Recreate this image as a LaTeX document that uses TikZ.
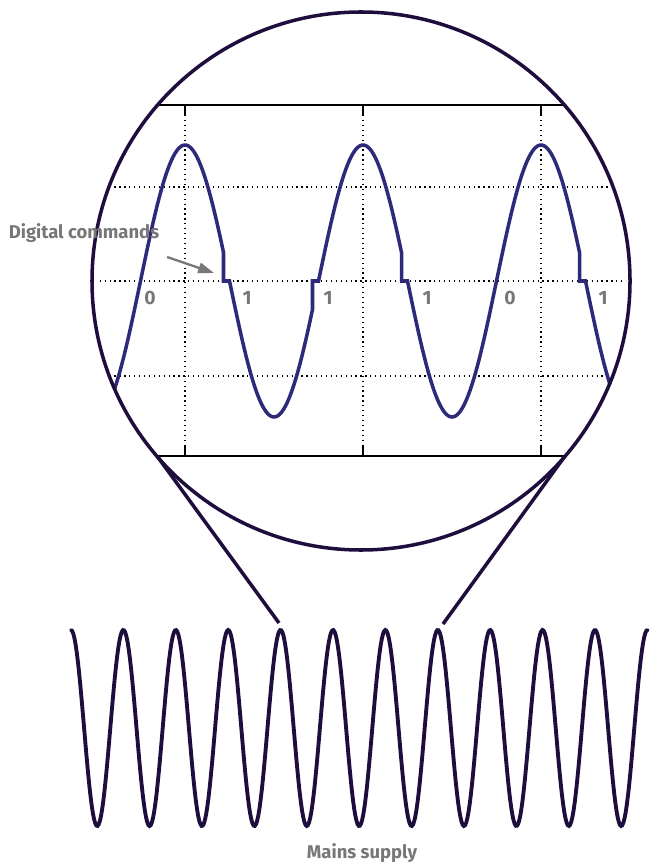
\documentclass[tikz,border=0pt]{standalone}
\usepackage{fontspec}
\setmainfont{Fira Sans}
\usetikzlibrary{arrows.meta}
\definecolor{lensline}{HTML}{1F0E3D}
\definecolor{sigblue}{HTML}{2D2A7A}
\definecolor{notegray}{HTML}{777777}
\begin{document}
\begin{tikzpicture}[x=0.02cm,y=-0.02cm,
    declare function={sig(\t)=281-136*cos((\t-185)/178*360);
                      mains(\t)=728-98*cos((\t-71)/52.4*360);},
    grid/.style={black,line width=0.7pt,dash pattern=on 0.7pt off 2.1pt},
    axis/.style={black,line width=1.1pt},
    label/.style={notegray,font=\bfseries\fontsize{10.5}{12}\selectfont},
    bit/.style={notegray,font=\bfseries\fontsize{11}{12}\selectfont}]
  \useasboundingbox (0,0) rectangle (654,864);
  % dotted grid inside the lens
  \begin{scope}
    \clip (361,281) circle (265);
    \foreach \y in {187,281,376}
      \draw[grid] (80,\y) -- (640,\y);
  \end{scope}
  \foreach \x in {185,363,541}
    \draw[grid] (\x,115) -- (\x,446);
  % axes with ticks
  \begin{scope}
    \clip (361,281) circle (268);
    \draw[axis] (80,105) -- (640,105);
    \draw[axis] (80,456) -- (640,456);
  \end{scope}
  \foreach \x in {185,363,541} {
    \draw[axis] (\x,105) -- (\x,115);
    \draw[axis] (\x,456) -- (\x,446);
  }
  % signal with digital notches
  \begin{scope}
    \clip (361,281) circle (268);
    \draw[sigblue,line width=2pt,line join=miter]
      plot[domain=95:223.5,samples=80] (\x,{sig(\x)}) -- (223.5,281)
      -- plot[domain=229.5:312.5,samples=60] (\x,{sig(\x)}) -- (312.5,281)
      -- plot[domain=318.5:401.5,samples=60] (\x,{sig(\x)}) -- (401.5,281)
      -- plot[domain=407.5:579.5,samples=110] (\x,{sig(\x)}) -- (579.5,281)
      -- plot[domain=585.5:640,samples=40] (\x,{sig(\x)});
  \end{scope}
  \draw[lensline,line width=2pt] (361,281) circle (269);
  % bits
  \foreach \x/\b [count=\i] in {150/0,247/1,328/1,427/1,510/0,603/1}
    \node[bit] (bit\i) at (\x,298) {\b};
  % callout
  \node[label] (cmd) at (84,233) {Digital commands};
  \coordinate (cmdtail) at (167,257);
  \coordinate (cmdtip) at (214,273);
  \draw[notegray,line width=1.3pt,-{Triangle[length=9pt,width=6pt]}] (cmdtail) -- (cmdtip);
  % zoom lines
  \coordinate (rimL) at (157,456);
  \coordinate (rimR) at (565,456);
  \coordinate (peakL) at (279,623);
  \coordinate (peakR) at (443,624);
  \draw[lensline,line width=2pt] (rimL) -- (peakL);
  \draw[lensline,line width=2pt] (rimR) -- (peakR);
  % mains supply
  \draw[lensline,line width=2.2pt,line cap=round]
    plot[domain=71:647.6,samples=500] (\x,{mains(\x)});
  \node[label] (mains) at (362,853) {Mains supply};
\end{tikzpicture}
\end{document}
